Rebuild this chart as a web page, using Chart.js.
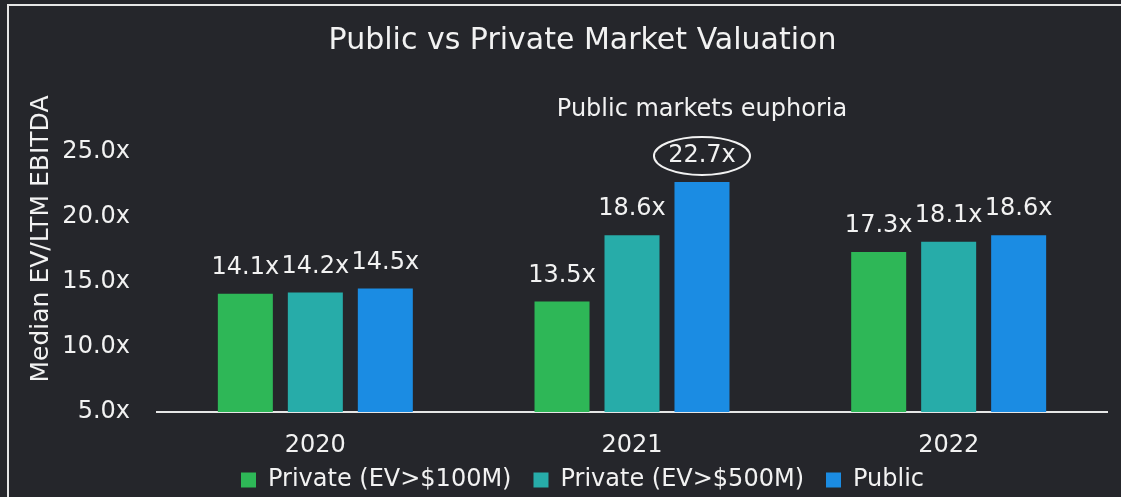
<!DOCTYPE html>
<html>
<head>
<meta charset="utf-8">
<script src="https://cdn.jsdelivr.net/npm/chart.js@4"></script>
<style>
html,body{margin:0;padding:0;background:#25262b;overflow:hidden;}
#wrap{width:1121px;height:502px;position:relative;}
</style>
</head>
<body>
<div id="wrap"><canvas id="c" width="1121" height="502"></canvas></div>
<script>
const categories = ['2020', '2021', '2022'];
const privateSmall = [14.1, 13.5, 17.3];
const privateLarge = [14.2, 18.6, 18.1];
const publicVals = [14.5, 22.7, 18.6];
const seriesNames = ['Private (EV>$100M)', 'Private (EV>$500M)', 'Public'];
const yTicks = [5, 10, 15, 20, 25];
const chartTitle = 'Public vs Private Market Valuation';
const yTitle = 'Median EV/LTM EBITDA';
const noteText = 'Public markets euphoria';

const FONT = "'DejaVu Sans', sans-serif";
const TXT = '#f2f2f2';

const decor = {
  id: 'decor',
  afterLayout(chart) {
    // let the x tick labels extend below the (shortened) axis box without clipping
    chart.scales.x.bottom += 20;
  },
  beforeDraw(chart) {
    const ctx = chart.ctx;
    ctx.save();
    ctx.fillStyle = '#25262b';
    ctx.fillRect(0, 0, chart.width, chart.height);
    ctx.strokeStyle = '#e6e6e6';
    ctx.lineWidth = 2;
    ctx.beginPath();
    ctx.moveTo(1121 + 5, 5);
    ctx.lineTo(8, 5);
    ctx.lineTo(8, chart.height + 5);
    ctx.stroke();
    ctx.restore();
  },
  afterDatasetsDraw(chart) {
    const ctx = chart.ctx;
    ctx.save();
    ctx.fillStyle = TXT;
    ctx.font = '24px ' + FONT;
    ctx.textAlign = 'center';
    ctx.textBaseline = 'middle';
    chart.data.datasets.forEach((ds, di) => {
      const meta = chart.getDatasetMeta(di);
      meta.data.forEach((bar, i) => {
        ctx.fillText(ds.data[i].toFixed(1) + 'x', bar.x, bar.y - 26);
      });
    });
    // annotation on 2021 public bar
    const pub = chart.getDatasetMeta(2).data[1];
    ctx.fillText(noteText, pub.x, 110);
    ctx.strokeStyle = TXT;
    ctx.lineWidth = 2;
    ctx.beginPath();
    ctx.ellipse(pub.x, pub.y - 26, 48, 19, 0, 0, Math.PI * 2);
    ctx.stroke();
    // y axis title
    ctx.font = '25px ' + FONT;
    ctx.translate(41, 239);
    ctx.rotate(-Math.PI / 2);
    ctx.fillText(yTitle, 0, 0);
    ctx.restore();
  }
};

new Chart(document.getElementById('c'), {
  type: 'bar',
  data: {
    labels: categories,
    datasets: [
      { label: seriesNames[0], data: privateSmall, backgroundColor: '#2eb757' },
      { label: seriesNames[1], data: privateLarge, backgroundColor: '#27aca9' },
      { label: seriesNames[2], data: publicVals, backgroundColor: '#1b8ce3' }
    ]
  },
  options: {
    responsive: false,
    animation: false,
    events: [],
    layout: { padding: { left: 58, right: 14, top: 0, bottom: 0 } },
    datasets: { bar: { categoryPercentage: 0.663, barPercentage: 0.786 } },
    plugins: {
      title: {
        display: true,
        text: chartTitle,
        color: TXT,
        font: { family: FONT, size: 30, weight: 'normal', lineHeight: 1.2 },
        padding: { top: 23, bottom: 93 }
      },
      legend: {
        position: 'bottom',
        labels: {
          color: TXT,
          font: { family: FONT, size: 24 },
          boxWidth: 15,
          boxHeight: 15,
          padding: 22
        }
      },
      tooltip: { enabled: false }
    },
    scales: {
      x: {
        afterFit(scale) { scale.height = 34; },
        grid: { display: false, drawTicks: false },
        border: { display: true, color: '#e6e6e6', width: 2 },
        ticks: { color: TXT, font: { family: FONT, size: 24, lineHeight: 1 }, padding: 22 }
      },
      y: {
        min: 5,
        max: 25,
        afterFit(scale) { scale.width = 99; },
        afterBuildTicks(scale) { scale.ticks = yTicks.map(v => ({ value: v })); },
        grid: { display: false, drawTicks: false },
        border: { display: false },
        ticks: {
          color: TXT,
          font: { family: FONT, size: 24 },
          padding: 27,
          callback: v => Number(v).toFixed(1) + 'x'
        }
      }
    }
  },
  plugins: [decor]
});
</script>
</body>
</html>
